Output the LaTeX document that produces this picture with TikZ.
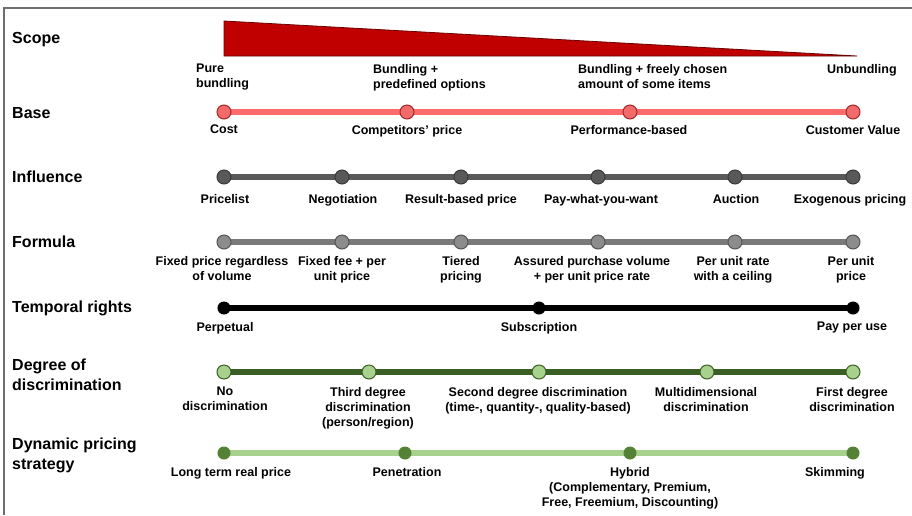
\documentclass[tikz,border=0pt]{standalone}
\usepackage{fontspec}
\setmainfont{Liberation Sans}
\usetikzlibrary{backgrounds}
\definecolor{framegrey}{HTML}{6E6E6E}
\definecolor{scopered}{HTML}{C00000}
\definecolor{scopeedge}{HTML}{6A0000}
\definecolor{basebar}{HTML}{FF6B6B}
\definecolor{basedot}{HTML}{F26A6A}
\definecolor{baseedge}{HTML}{9E2A2B}
\definecolor{inflgrey}{HTML}{595959}
\definecolor{infledge}{HTML}{3A3A3A}
\definecolor{formbar}{HTML}{7A7A7A}
\definecolor{formdot}{HTML}{8C8C8C}
\definecolor{formedge}{HTML}{555555}
\definecolor{discrbar}{HTML}{3A5F24}
\definecolor{discrdot}{HTML}{A9D18E}
\definecolor{dynbar}{HTML}{A9D18E}
\definecolor{dyndot}{HTML}{548235}

\begin{document}
\begin{tikzpicture}[x=1pt,y=-1pt,
  rowlabel/.style={anchor=west, align=left, inner sep=0pt, font=\fontsize{16}{20}\selectfont\bfseries},
  itemlabel/.style={anchor=north, align=center, inner sep=0pt, font=\fontsize{12.5}{15}\selectfont\bfseries},
  leftlabel/.style={itemlabel, anchor=north west, align=left},
  dot/.style={circle, draw, line width=1pt, minimum size=14pt, inner sep=0pt},
  smalldot/.style={dot, minimum size=12pt},
  bar/.style={line width=6pt}]
\useasboundingbox (0,0) rectangle (912,515);
\draw[framegrey, line width=1.5pt] (4,515) -- (4,8) -- (912,8);

% row titles
\node[rowlabel] (scope) at (12,40) {Scope};
\node[rowlabel] (base) at (12,113) {Base};
\node[rowlabel] (influence) at (12,177) {Influence};
\node[rowlabel] (formula) at (12,242) {Formula};
\node[rowlabel] (temporal) at (12,308) {Temporal rights};
\node[rowlabel] (discr) at (12,375) {Degree of\\discrimination};
\node[rowlabel] (dynamic) at (12,455) {Dynamic pricing\\strategy};

% scope
\draw[scopeedge, fill=scopered, line width=0.8pt] (224,21) -- (857,56) -- (224,56) -- cycle;
\node[leftlabel] (pure) at (196,64) {Pure\\bundling};
\node[leftlabel] (predef) at (373,64) {Bundling +\\predefined options};
\node[leftlabel] (freely) at (578,64) {Bundling + freely chosen\\amount of some items};
\node[leftlabel] (unbund) at (827,64) {Unbundling};

% base
\node[dot, draw=baseedge, fill=basedot] (b1) at (224,112) {};
\node[dot, draw=baseedge, fill=basedot] (b2) at (407,112) {};
\node[dot, draw=baseedge, fill=basedot] (b3) at (630,112) {};
\node[dot, draw=baseedge, fill=basedot] (b4) at (853,112) {};
\node[itemlabel] (cost) at (224,125) {Cost};
\node[itemlabel] (compet) at (407,125) {Competitors' price};
\node[itemlabel] (perf) at (629,125) {Performance-based};
\node[itemlabel] (custval) at (853,125) {Customer Value};

% influence
\node[dot, draw=infledge, fill=inflgrey] (i1) at (224,177) {};
\node[dot, draw=infledge, fill=inflgrey] (i2) at (342,177) {};
\node[dot, draw=infledge, fill=inflgrey] (i3) at (461,177) {};
\node[dot, draw=infledge, fill=inflgrey] (i4) at (598,177) {};
\node[dot, draw=infledge, fill=inflgrey] (i5) at (735,177) {};
\node[dot, draw=infledge, fill=inflgrey] (i6) at (853,177) {};
\node[itemlabel] (pricelist) at (225,194) {Pricelist};
\node[itemlabel] (negot) at (343,194) {Negotiation};
\node[itemlabel] (result) at (461,194) {Result-based price};
\node[itemlabel] (paywhat) at (601,194) {Pay-what-you-want};
\node[itemlabel] (auction) at (736,194) {Auction};
\node[itemlabel] (exogen) at (850,194) {Exogenous pricing};

% formula
\node[dot, draw=formedge, fill=formdot] (f1) at (224,242) {};
\node[dot, draw=formedge, fill=formdot] (f2) at (342,242) {};
\node[dot, draw=formedge, fill=formdot] (f3) at (461,242) {};
\node[dot, draw=formedge, fill=formdot] (f4) at (598,242) {};
\node[dot, draw=formedge, fill=formdot] (f5) at (735,242) {};
\node[dot, draw=formedge, fill=formdot] (f6) at (853,242) {};
\node[itemlabel] (fixed) at (222,256) {Fixed price regardless\\of volume};
\node[itemlabel] (fixedfee) at (342,256) {Fixed fee + per\\unit price};
\node[itemlabel] (tiered) at (461,256) {Tiered\\pricing};
\node[itemlabel] (assured) at (592,256) {Assured purchase volume\\+ per unit price rate};
\node[itemlabel] (ceiling) at (733,256) {Per unit rate\\with a ceiling};
\node[itemlabel] (perunit) at (851,256) {Per unit\\price};

% temporal rights
\node[smalldot, draw=black, fill=black] (t1) at (224,308) {};
\node[smalldot, draw=black, fill=black] (t2) at (539,308) {};
\node[smalldot, draw=black, fill=black] (t3) at (853,308) {};
\node[itemlabel] (perpet) at (225,322) {Perpetual};
\node[itemlabel] (subscr) at (539,322) {Subscription};
\node[itemlabel] (payuse) at (852,322) {Pay per use};

% degree of discrimination
\node[dot, draw=discrbar, fill=discrdot] (d1) at (224,372) {};
\node[dot, draw=discrbar, fill=discrdot] (d2) at (369,372) {};
\node[dot, draw=discrbar, fill=discrdot] (d3) at (539,372) {};
\node[dot, draw=discrbar, fill=discrdot] (d4) at (707,372) {};
\node[dot, draw=discrbar, fill=discrdot] (d5) at (853,372) {};
\node[itemlabel] (nodiscr) at (225,387) {No\\discrimination};
\node[itemlabel] (third) at (368,387) {Third degree\\discrimination\\(person/region)};
\node[itemlabel] (second) at (538,387) {Second degree discrimination\\(time-, quantity-, quality-based)};
\node[itemlabel] (multi) at (706,387) {Multidimensional\\discrimination};
\node[itemlabel] (first) at (852,387) {First degree\\discrimination};

% dynamic pricing strategy
\node[smalldot, draw=dyndot, fill=dyndot] (s1) at (224,453) {};
\node[smalldot, draw=dyndot, fill=dyndot] (s2) at (405,453) {};
\node[smalldot, draw=dyndot, fill=dyndot] (s3) at (630,453) {};
\node[smalldot, draw=dyndot, fill=dyndot] (s4) at (853,453) {};
\node[itemlabel] (longterm) at (231,467) {Long term real price};
\node[itemlabel] (penetr) at (407,467) {Penetration};
\node[itemlabel] (hybrid) at (630,467) {Hybrid\\(Complementary, Premium,\\Free, Freemium, Discounting)};
\node[itemlabel] (skimm) at (835,467) {Skimming};

% bars behind the dots
\begin{scope}[on background layer]
\draw[bar, basebar] (b1.center) -- (b4.center);
\draw[bar, inflgrey] (i1.center) -- (i6.center);
\draw[bar, formbar] (f1.center) -- (f6.center);
\draw[bar, black] (t1.center) -- (t3.center);
\draw[bar, discrbar] (d1.center) -- (d5.center);
\draw[bar, dynbar] (s1.center) -- (s4.center);
\end{scope}
\end{tikzpicture}
\end{document}
